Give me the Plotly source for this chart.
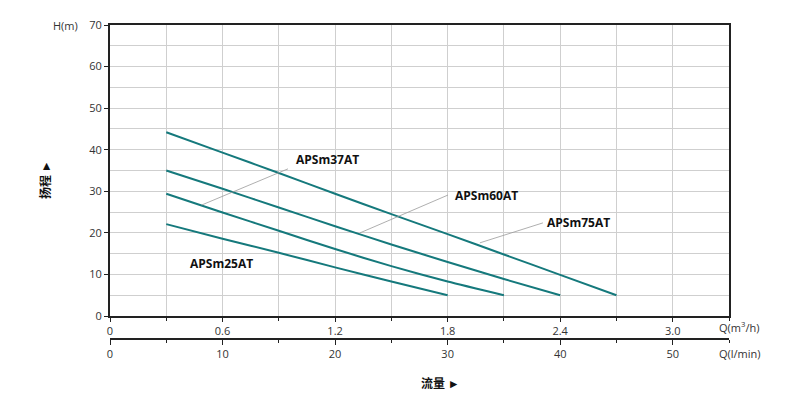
import plotly.graph_objects as go

# ---- data ----
flow_m3h = [0.3, 0.6, 0.9, 1.2, 1.5, 1.8, 2.1, 2.4, 2.7]
head_75AT = [44.2, 39.3, 34.4, 29.4, 24.5, 19.7, 14.8, 9.9, 5.0]
head_60AT = [35.0, 30.6, 26.1, 21.6, 17.2, 13.0, 8.9, 5.0]
head_37AT = [29.4, 24.9, 20.5, 16.1, 12.0, 8.3, 5.0]
head_25AT = [22.1, 18.6, 15.2, 11.7, 8.3, 5.0]
series_names = ["APSm75AT", "APSm60AT", "APSm37AT", "APSm25AT"]
series_heads = [head_75AT, head_60AT, head_37AT, head_25AT]

x_tickvals = [0, 0.6, 1.2, 1.8, 2.4, 3.0]
x_ticktext = ["0", "0.6", "1.2", "1.8", "2.4", "3.0"]
lmin_tickvals = [0, 10, 20, 30, 40, 50]
y_tickvals = [0, 10, 20, 30, 40, 50, 60, 70]

# ---- layout (page body has an 8px margin) ----
BODY = 8
W, H = 790 - 2 * BODY, 408 - 2 * BODY
# paper box in screen pixels
SL, SR, ST, SB = 110, 729, 25, 358
ML, MT = SL - BODY, ST - BODY
MR, MB = W - (SR - BODY), H - (SB - BODY)
PW, PH = SR - SL, SB - ST


def px(xs):
    return (xs - SL) / PW


def py(ys):
    return (SB - ys) / PH


LINE_COLOR = "#15797c"
AX_COLOR = "#222222"
GRID = "#cfcfcf"
FONT = "Open Sans, Noto Sans, sans-serif"
CJK = "Noto Sans CJK SC"

fig = go.Figure()
for name, heads in zip(series_names, series_heads):
    fig.add_trace(go.Scatter(
        x=flow_m3h[:len(heads)], y=heads, mode="lines", name=name,
        line=dict(color=LINE_COLOR, width=2, shape="spline", smoothing=0.6),
        showlegend=False, hoverinfo="skip",
    ))

# invisible trace for the secondary (l/min) axis
fig.add_trace(go.Scatter(x=[0, 55], y=[None, None], xaxis="x2", yaxis="y",
                         mode="lines", showlegend=False, hoverinfo="skip"))

fig.update_layout(
    width=W, height=H,
    margin=dict(l=ML, r=MR, t=MT, b=MB, pad=0, autoexpand=False),
    paper_bgcolor="white", plot_bgcolor="white",
    font=dict(family=FONT, size=11, color="#333333"),
    xaxis=dict(
        range=[0, 3.3], tickvals=x_tickvals, ticktext=x_ticktext,
        showgrid=True, gridcolor=GRID, gridwidth=1,
        minor=dict(dtick=0.3, tick0=0, showgrid=True, gridcolor=GRID, gridwidth=1,
                   ticks="outside", ticklen=3, tickcolor=AX_COLOR),
        ticks="outside", ticklen=4, tickcolor=AX_COLOR,
        showline=True, linecolor=AX_COLOR, linewidth=2, mirror=True,
        zeroline=False, anchor="y",
        tickfont=dict(family=FONT, size=11, color="#333333"),
    ),
    xaxis2=dict(
        range=[0, 55], tickvals=lmin_tickvals,
        overlaying="x", anchor="free", position=py(339), side="bottom",
        showgrid=False, zeroline=False,
        minor=dict(dtick=5, tick0=0, ticks="outside", ticklen=3, tickcolor=AX_COLOR),
        ticks="outside", ticklen=5, tickcolor=AX_COLOR,
        showline=True, linecolor=AX_COLOR, linewidth=2,
        tickfont=dict(family=FONT, size=11, color="#333333"),
    ),
    yaxis=dict(
        range=[0, 70], domain=[py(316), 1], tickvals=y_tickvals,
        showgrid=True, gridcolor=GRID, gridwidth=1,
        minor=dict(dtick=5, tick0=0, showgrid=True, gridcolor=GRID, gridwidth=1),
        ticks="outside", ticklen=4, tickcolor=AX_COLOR,
        showline=True, linecolor=AX_COLOR, linewidth=2, mirror=True,
        zeroline=False,
        tickfont=dict(family=FONT, size=11, color="#333333"),
    ),
)

# series labels
labels = [
    ("APSm37AT", 327, 159),
    ("APSm60AT", 486, 195),
    ("APSm75AT", 578, 222),
    ("APSm25AT", 221, 263),
]
for text, cx, cy in labels:
    fig.add_annotation(text="<b>%s</b>" % text, xref="paper", yref="paper",
                       x=px(cx), y=py(cy), xanchor="center", yanchor="middle",
                       showarrow=False, font=dict(family=FONT, size=12, color="#111111"))

# leader lines (data coordinates)
leaders = [
    (0.489, 26.7, 0.949, 35.4),
    (1.333, 20.0, 1.802, 29.1),
    (1.972, 17.6, 2.308, 22.4),
]
for x0, y0, x1, y1 in leaders:
    fig.add_shape(type="line", xref="x", yref="y", x0=x0, y0=y0, x1=x1, y1=y1,
                  line=dict(color="#9a9a9a", width=0.8))

# axis titles
fig.add_annotation(text="H(m)", xref="paper", yref="paper", x=px(80), y=py(25),
                   xanchor="right", yanchor="middle", showarrow=False,
                   font=dict(family=FONT, size=11, color="#333333"))
fig.add_annotation(text="Q(m<sup>3</sup>/h)", xref="paper", yref="paper", x=px(717), y=py(327),
                   xanchor="left", yanchor="middle", showarrow=False,
                   font=dict(family=FONT, size=11, color="#333333"))
fig.add_annotation(text="Q(l/min)", xref="paper", yref="paper", x=px(717), y=py(353),
                   xanchor="left", yanchor="middle", showarrow=False,
                   font=dict(family=FONT, size=11, color="#333333"))
fig.add_annotation(text="<b>流量 ►</b>", xref="paper", yref="paper", x=px(440), y=py(382),
                   xanchor="center", yanchor="middle", showarrow=False,
                   font=dict(family=CJK, size=12, color="#111111"))
fig.add_annotation(text="<b>扬程 ►</b>", xref="paper", yref="paper", x=px(45), y=py(180),
                   xanchor="center", yanchor="middle", showarrow=False, textangle=-90,
                   font=dict(family=CJK, size=12, color="#111111"))

fig.write_html("out.html")
